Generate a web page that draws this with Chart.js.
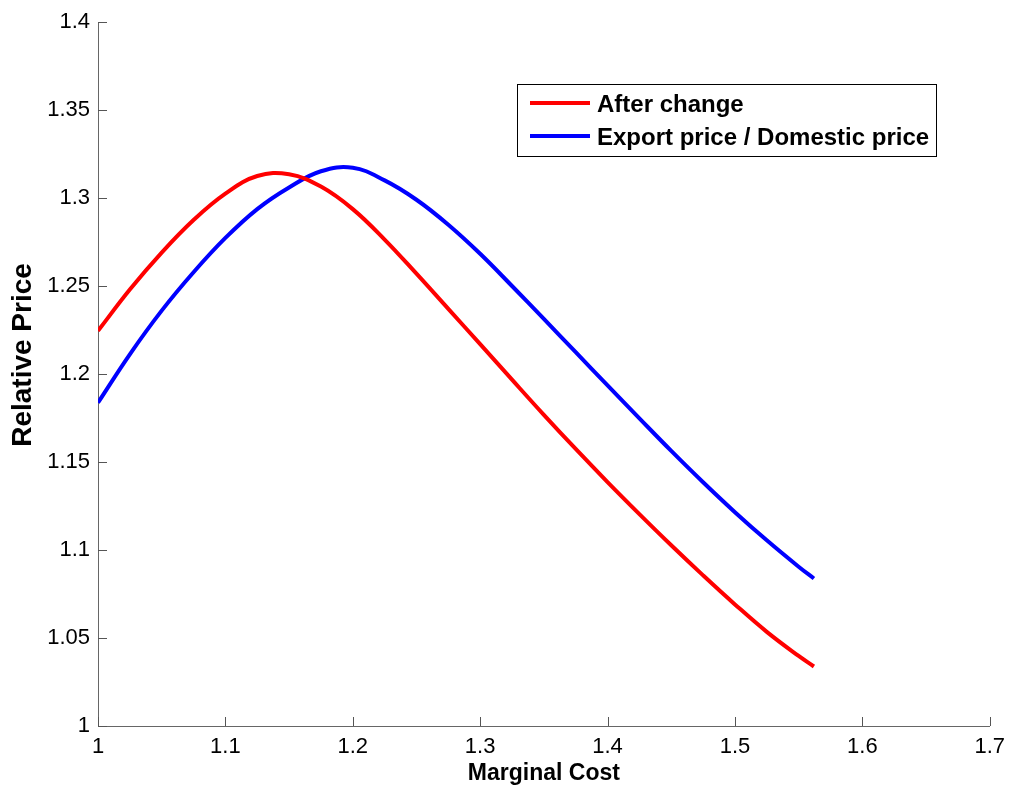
<!DOCTYPE html>
<html>
<head>
<meta charset="utf-8">
<script src="https://cdn.jsdelivr.net/npm/chart.js@4.4.1/dist/chart.umd.min.js"></script>
<style>
  body { margin: 0; background: #fff; }
  #wrap { width: 1013px; height: 790px; }
</style>
</head>
<body>
<div id="wrap"><canvas id="chart" width="1013" height="790"></canvas></div>
<script>
// values
const marginalCost = [1.0, 1.025, 1.05, 1.075, 1.1, 1.125, 1.15, 1.175, 1.2, 1.225, 1.25, 1.275, 1.3, 1.325, 1.35, 1.375, 1.4, 1.425, 1.45, 1.475, 1.5, 1.525, 1.55, 1.562];
const afterChange = [1.2245, 1.248, 1.269, 1.2875, 1.3025, 1.3125, 1.3135, 1.3065, 1.2937, 1.2764, 1.257, 1.237, 1.217, 1.1968, 1.1768, 1.1574, 1.1386, 1.1204, 1.1027, 1.0856, 1.0691, 1.0535, 1.0398, 1.0338];
const exportDomestic = [1.1837, 1.2112, 1.236, 1.2578, 1.2773, 1.2937, 1.306, 1.3152, 1.3172, 1.31, 1.299, 1.2848, 1.2683, 1.25, 1.2313, 1.2124, 1.1935, 1.1748, 1.1563, 1.1385, 1.1215, 1.1055, 1.0905, 1.0838];

const xTickLabels = ['1', '1.1', '1.2', '1.3', '1.4', '1.5', '1.6', '1.7'];
const yTickLabels = ['1', '1.05', '1.1', '1.15', '1.2', '1.25', '1.3', '1.35', '1.4'];

const FONT = "'Liberation Sans', Arial, Helvetica, sans-serif";

function toPoints(xs, ys) {
    return xs.map((x, i) => ({ x: x, y: ys[i] }));
}

// matlab style ticks that point into the plot
const innerTicks = {
    id: 'innerTicks',
    afterDraw(chart) {
        const ctx = chart.ctx;
        const area = chart.chartArea;
        const xs = chart.scales.x, ys = chart.scales.y;
        ctx.save();
        ctx.strokeStyle = '#555';
        ctx.lineWidth = 1;
        ctx.beginPath();
        xs.ticks.forEach(t => {
            const px = Math.round(xs.getPixelForValue(t.value)) + 0.5;
            ctx.moveTo(px, area.bottom);
            ctx.lineTo(px, area.bottom - 9);
        });
        ys.ticks.forEach(t => {
            const py = Math.round(ys.getPixelForValue(t.value)) + 0.5;
            ctx.moveTo(area.left, py);
            ctx.lineTo(area.left + 9, py);
        });
        ctx.stroke();
        ctx.restore();
    }
};

// y label, sits a bit above the middle of the axis
const yLabel = {
    id: 'yLabel',
    afterDraw(chart) {
        const ctx = chart.ctx;
        ctx.save();
        ctx.translate(23, 355);
        ctx.rotate(-Math.PI / 2);
        ctx.font = 'bold 28px ' + FONT;
        ctx.fillStyle = '#000';
        ctx.textAlign = 'center';
        ctx.textBaseline = 'middle';
        ctx.fillText('Relative Price', 0, 0);
        ctx.restore();
    }
};

// boxed legend inside the axes, top right
const boxLegend = {
    id: 'boxLegend',
    afterDraw(chart) {
        const ctx = chart.ctx;
        const x0 = 517, y0 = 84, w = 419, h = 72;
        ctx.save();
        ctx.fillStyle = '#fff';
        ctx.fillRect(x0, y0, w, h);
        ctx.strokeStyle = '#000';
        ctx.lineWidth = 1;
        ctx.strokeRect(x0 + 0.5, y0 + 0.5, w, h);
        ctx.font = 'bold 24px ' + FONT;
        ctx.textBaseline = 'middle';
        chart.data.datasets.forEach((ds, i) => {
            const y = y0 + 19 + i * 33;
            ctx.strokeStyle = ds.borderColor;
            ctx.lineWidth = 4;
            ctx.beginPath();
            ctx.moveTo(x0 + 13, y);
            ctx.lineTo(x0 + 73, y);
            ctx.stroke();
            ctx.fillStyle = '#000';
            ctx.fillText(ds.label, x0 + 80, y + 2);
        });
        ctx.restore();
    }
};

new Chart(document.getElementById('chart'), {
    type: 'line',
    data: {
        datasets: [
            {
                label: 'After change',
                data: toPoints(marginalCost, afterChange),
                borderColor: '#ff0000',
                borderWidth: 4
            },
            {
                label: 'Export price / Domestic price',
                data: toPoints(marginalCost, exportDomestic),
                borderColor: '#0000ff',
                borderWidth: 4
            }
        ]
    },
    options: {
        responsive: false,
        animation: false,
        events: [],
        elements: { point: { radius: 0 }, line: { tension: 0.4, borderCapStyle: 'butt' } },
        layout: { padding: { left: 0, top: 22, right: 22, bottom: 0 } },
        plugins: { legend: { display: false }, tooltip: { enabled: false } },
        scales: {
            x: {
                type: 'linear',
                min: 1,
                max: 1.7,
                afterBuildTicks: s => { s.ticks = xTickLabels.map(v => ({ value: parseFloat(v) })); },
                afterFit: s => { s.height = 64; },
                grid: { display: false, drawTicks: false },
                border: { display: true, color: '#666', width: 1 },
                ticks: {
                    color: '#000',
                    font: { family: FONT, size: 22 },
                    padding: 8,
                    maxRotation: 0,
                    callback: (v, i) => xTickLabels[i]
                },
                title: {
                    display: true,
                    text: 'Marginal Cost',
                    color: '#000',
                    font: { family: FONT, size: 23, weight: 'bold' },
                    padding: { top: 0, bottom: 3 }
                }
            },
            y: {
                type: 'linear',
                min: 1,
                max: 1.4,
                afterBuildTicks: s => { s.ticks = yTickLabels.map(v => ({ value: parseFloat(v) })); },
                afterFit: s => { s.width = 98; },
                grid: { display: false, drawTicks: false },
                border: { display: true, color: '#666', width: 1 },
                ticks: {
                    color: '#000',
                    font: { family: FONT, size: 22 },
                    padding: 8,
                    callback: (v, i) => yTickLabels[i]
                }
            }
        }
    },
    plugins: [innerTicks, yLabel, boxLegend]
});
</script>
</body>
</html>
